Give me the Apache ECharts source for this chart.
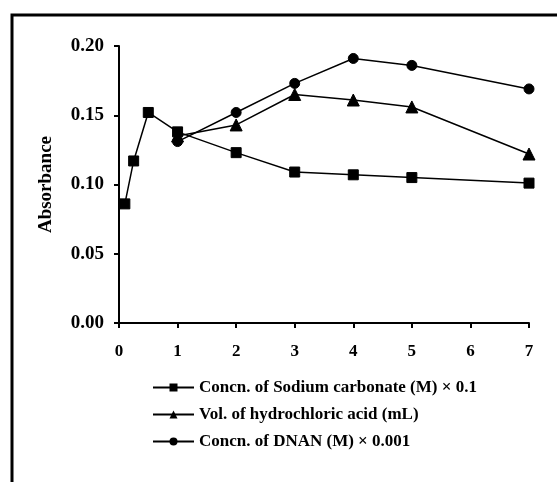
<!DOCTYPE html>
<html>
<head>
<meta charset="utf-8">
<script src="https://cdn.jsdelivr.net/npm/echarts@6/dist/echarts.min.js"></script>
<style>
  html, body { margin: 0; padding: 0; background: #fff; }
  #chart { width: 557px; height: 482px; }
</style>
</head>
<body>
<div id="chart"></div>
<script>
// x positions
var xSodium = [0.1, 0.25, 0.5, 1, 2, 3, 4, 5, 7];
var xOther = [1, 2, 3, 4, 5, 7];
// absorbance values
var sodiumVals = [0.086, 0.117, 0.152, 0.138, 0.123, 0.109, 0.107, 0.105, 0.101];
var hclVals = [0.135, 0.143, 0.165, 0.161, 0.156, 0.122];
var dnanVals = [0.131, 0.152, 0.173, 0.191, 0.186, 0.169];
var seriesNames = [
  'Concn. of Sodium carbonate (M) \u00d7 0.1',
  'Vol. of hydrochloric acid (mL)',
  'Concn. of DNAN (M) \u00d7 0.001'
];

function pairs(xs, ys) {
  var out = [];
  for (var i = 0; i < xs.length; i++) out.push([xs[i], ys[i]]);
  return out;
}

var chart = echarts.init(document.getElementById('chart'));
var font = 'Liberation Serif';

var lineStyle = { color: '#000', width: 1.5 };
var itemStyle = { color: '#000', borderColor: '#000' };

var option = {
  backgroundColor: '#fff',
  animation: false,
  textStyle: { fontFamily: font, fontWeight: 'bold', color: '#000' },
  graphic: [{
    type: 'rect',
    shape: { x: 12, y: 15, width: 700, height: 700 },
    style: { fill: null, stroke: '#000', lineWidth: 3 }
  }],
  grid: { left: 119, right: 28, top: 46, bottom: 159 },
  legend: {
    orient: 'vertical',
    left: 147,
    top: 374,
    itemWidth: 41,
    itemHeight: 10,
    itemGap: 10,
    textStyle: { fontFamily: font, fontWeight: 'bold', fontSize: 17, color: '#000' },
    data: seriesNames
  },
  xAxis: {
    type: 'value',
    min: 0,
    max: 7,
    interval: 1,
    axisLine: { lineStyle: { color: '#000', width: 2 } },
    axisTick: { lineStyle: { color: '#000', width: 2 }, length: 5 },
    axisLabel: { fontFamily: font, fontWeight: 'bold', fontSize: 17, color: '#000', margin: 20 },
    splitLine: { show: false }
  },
  yAxis: {
    type: 'value',
    min: 0,
    max: 0.2,
    interval: 0.05,
    name: 'Absorbance',
    nameLocation: 'middle',
    nameGap: 63,
    nameTextStyle: { fontFamily: font, fontWeight: 'bold', fontSize: 19, color: '#000' },
    axisLine: { show: true, lineStyle: { color: '#000', width: 2 } },
    axisTick: { show: true, lineStyle: { color: '#000', width: 2 }, length: 5 },
    axisLabel: {
      fontFamily: font, fontWeight: 'bold', fontSize: 19, color: '#000', margin: 15,
      formatter: function (v) { return v.toFixed(2); }
    },
    splitLine: { show: false }
  },
  series: [{
    name: seriesNames[0],
    type: 'line',
    data: pairs(xSodium, sodiumVals),
    symbol: 'rect',
    symbolSize: 10,
    lineStyle: lineStyle,
    itemStyle: itemStyle
  }, {
    name: seriesNames[1],
    type: 'line',
    data: pairs(xOther, hclVals),
    symbol: 'triangle',
    symbolSize: 12,
    lineStyle: lineStyle,
    itemStyle: itemStyle
  }, {
    name: seriesNames[2],
    type: 'line',
    data: pairs(xOther, dnanVals),
    symbol: 'circle',
    symbolSize: 10,
    lineStyle: lineStyle,
    itemStyle: itemStyle
  }]
};

chart.setOption(option);
window.onresize = function () {
  chart.resize();
};
</script>
</body>
</html>
